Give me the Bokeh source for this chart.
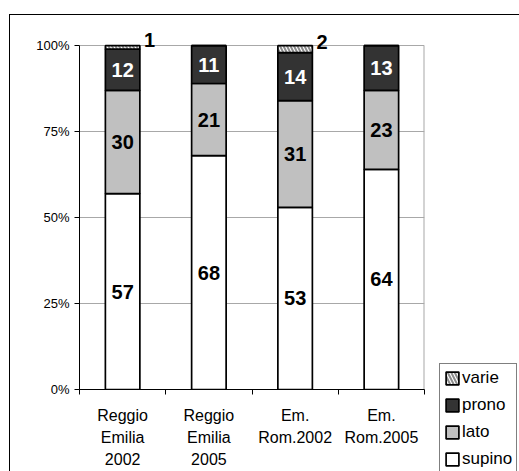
import numpy as np
from bokeh.plotting import figure
from bokeh.models import (ColumnDataSource, Range1d, FixedTicker, Legend, LegendItem,
                          PrintfTickFormatter)
from bokeh.core.properties import value
from bokeh.embed import file_html
from bokeh.resources import INLINE

# ---- data ----
categories = ["Reggio\nEmilia\n2002", "Reggio\nEmilia\n2005", "Em.\nRom.2002", "Em.\nRom.2005"]
supino = [57, 68, 53, 64]
lato = [30, 21, 31, 23]
prono = [12, 11, 14, 13]
varie = [1, 0, 2, 0]
series_names = ["supino", "lato", "prono", "varie"]
y_ticks = [0, 25, 50, 75, 100]

FONT = "Liberation Sans"
GRID = "#a8a8a8"
n = len(categories)
xc = np.arange(n) + 0.5
bar_w = 0.4

p = figure(frame_width=345, frame_height=361, x_range=Range1d(0, n), y_range=Range1d(0, 105),
           output_backend="svg", toolbar_location=None,
           min_border_left=69, min_border_right=95, min_border_top=13, min_border_bottom=82)
p.margin = (14, 0, 0, 9)
p.styles = {"border-top": "1px solid black", "border-left": "1px solid black"}
p.background_fill_color = "white"
p.border_fill_color = "white"
p.outline_line_color = None

# grid
p.xgrid.visible = False
p.ygrid.ticker = FixedTicker(ticks=y_ticks)
p.ygrid.grid_line_color = GRID
p.ygrid.grid_line_width = 1

# right edge of the plot area (grey, from 0% to 100%)
p.segment(x0=[n], y0=[min(y_ticks)], x1=[n], y1=[max(y_ticks)],
          line_color=GRID, line_width=2)

# y axis
p.yaxis.ticker = FixedTicker(ticks=y_ticks)
p.yaxis.bounds = (0, 100)
p.yaxis.formatter = PrintfTickFormatter(format="%d%%")
p.yaxis.major_tick_out = 5
p.yaxis.major_tick_in = 0
p.yaxis.minor_tick_line_color = None
p.yaxis.axis_line_color = "black"
p.yaxis.major_label_text_font = FONT
p.yaxis.major_label_text_font_size = "13px"
p.yaxis.major_label_text_color = "black"
p.yaxis.major_label_standoff = 5

# x axis: labels at centres, ticks at category boundaries
p.xaxis.ticker = FixedTicker(ticks=list(xc), minor_ticks=list(range(n + 1)))
p.xaxis.major_label_overrides = {float(x): c for x, c in zip(xc, categories)}
p.xaxis.major_tick_out = 0
p.xaxis.major_tick_in = 0
p.xaxis.minor_tick_out = 5
p.xaxis.minor_tick_in = 0
p.xaxis.minor_tick_line_color = "black"
p.xaxis.axis_line_color = "black"
p.xaxis.major_label_text_font = FONT
p.xaxis.major_label_text_font_size = "16px"
p.xaxis.major_label_text_color = "black"
p.xaxis.major_label_text_line_height = 1.3
p.xaxis.major_label_standoff = 12

# stacked bars
stack = [supino, lato, prono, varie]
fills = ["white", "#c0c0c0", "#333333", "white"]
label_colors = ["black", "black", "white", "black"]
bottoms = np.zeros(n)
renderers = {}
for name, vals, fc, lc in zip(series_names, stack, fills, label_colors):
    vals = np.array(vals, dtype=float)
    tops = bottoms + vals
    src = ColumnDataSource(dict(x=xc, bottom=bottoms, top=tops))
    kw = {}
    if name == "varie":
        kw = dict(hatch_pattern="\\", hatch_color="#8c8c8c", hatch_scale=7, hatch_weight=2)
    r = p.vbar(x="x", bottom="bottom", top="top", width=bar_w, source=src,
               fill_color=fc, line_color="black", line_width=1.7, **kw)
    renderers[name] = r
    mask = vals > 0
    mids = (bottoms + tops) / 2
    if name == "varie":
        lsrc = ColumnDataSource(dict(x=xc[mask] + bar_w / 2, y=mids[mask],
                                     t=[str(int(v)) for v in vals[mask]]))
        p.text(x="x", y="y", text="t", source=lsrc, x_offset=4, y_offset=-7,
               text_align="left", text_baseline="middle", text_color=lc,
               text_font=value(FONT), text_font_style="bold", text_font_size="20px")
    else:
        lsrc = ColumnDataSource(dict(x=xc[mask], y=mids[mask],
                                     t=[str(int(v)) for v in vals[mask]]))
        p.text(x="x", y="y", text="t", source=lsrc,
               text_align="center", text_baseline="middle", text_color=lc,
               text_font=value(FONT), text_font_style="bold", text_font_size="20px")
    bottoms = tops

legend = Legend(items=[LegendItem(label=nm, renderers=[renderers[nm]])
                       for nm in ["varie", "prono", "lato", "supino"]],
                location=(15, -85))
legend.border_line_color = "black"
legend.border_line_width = 1
legend.background_fill_color = "white"
legend.background_fill_alpha = 1
legend.label_text_font = FONT
legend.label_text_font_size = "17px"
legend.label_text_color = "black"
legend.glyph_width = 16
legend.glyph_height = 16
legend.label_height = 16
legend.label_standoff = 2
legend.spacing = 7
legend.padding = 4
legend.margin = 0
p.add_layout(legend, "right")

open("out.html", "w").write(file_html(p, INLINE))
